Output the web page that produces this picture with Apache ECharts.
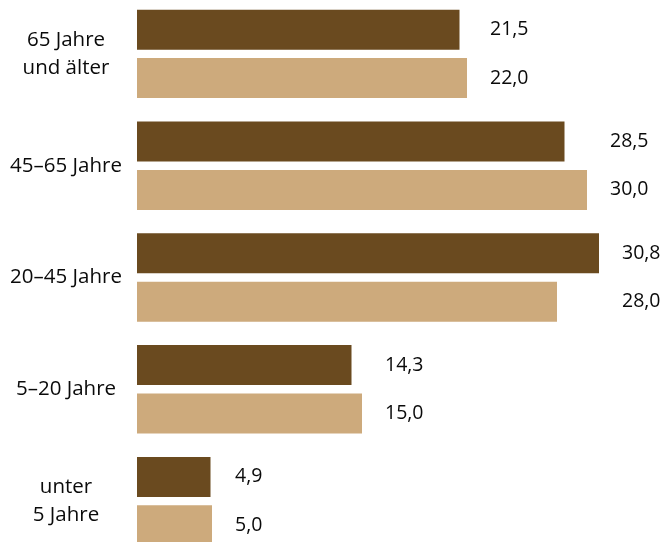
<!DOCTYPE html>
<html><head><meta charset="utf-8">
<script src="https://cdn.jsdelivr.net/npm/echarts@6/dist/echarts.min.js"></script>
<style>html,body{margin:0;padding:0;background:#fff}#c{width:668px;height:542px}</style>
</head><body><div id="c"></div>
<script>
const categories = ['65 Jahre\nund älter', '45–65 Jahre', '20–45 Jahre', '5–20 Jahre', 'unter\n5 Jahre'];
const seriesDark = [21.5, 28.5, 30.8, 14.3, 4.9];
const seriesLight = [22.0, 30.0, 28.0, 15.0, 5.0];

const chart = echarts.init(document.getElementById('c'), null, {renderer: 'canvas'});
const fmt = p => p.value.toFixed(1).replace('.', ',');
const font = {fontFamily: 'Open Sans', fontSize: 19.5, color: '#0a0a0a'};
function buildSeries(pxPerUnit) {
  const mk = (name, vals, color) => ({
    name, type: 'bar', barWidth: 40, barGap: '21%',
    itemStyle: {color},
    data: vals.map((v, i) => {
      const gmax = Math.max(seriesDark[i], seriesLight[i]);
      return {value: v, label: {distance: (gmax - v) * pxPerUnit + 23}};
    }),
    label: Object.assign({show: true, position: 'right', formatter: fmt}, font),
    animation: false
  });
  return [mk('a', seriesDark, '#6a4a1f'), mk('b', seriesLight, '#cdaa7c')];
}
const base = {
  backgroundColor: '#fff',
  animation: false,
  grid: {left: 137, right: 6, top: -2, height: 559, containLabel: false, outerBoundsMode: 'none'},
  xAxis: {type: 'value', min: 0, max: 35, show: false},
  yAxis: {
    type: 'category', data: categories, inverse: true,
    axisLine: {show: false}, axisTick: {show: false},
    axisLabel: Object.assign({margin: 71, align: 'center', lineHeight: 28}, font, {fontSize: 20.5})
  },
  series: buildSeries(15)
};
chart.setOption(base);
const ppu = chart.convertToPixel({xAxisIndex: 0}, 1) - chart.convertToPixel({xAxisIndex: 0}, 0);
chart.setOption({series: buildSeries(ppu)});
</script></body></html>
